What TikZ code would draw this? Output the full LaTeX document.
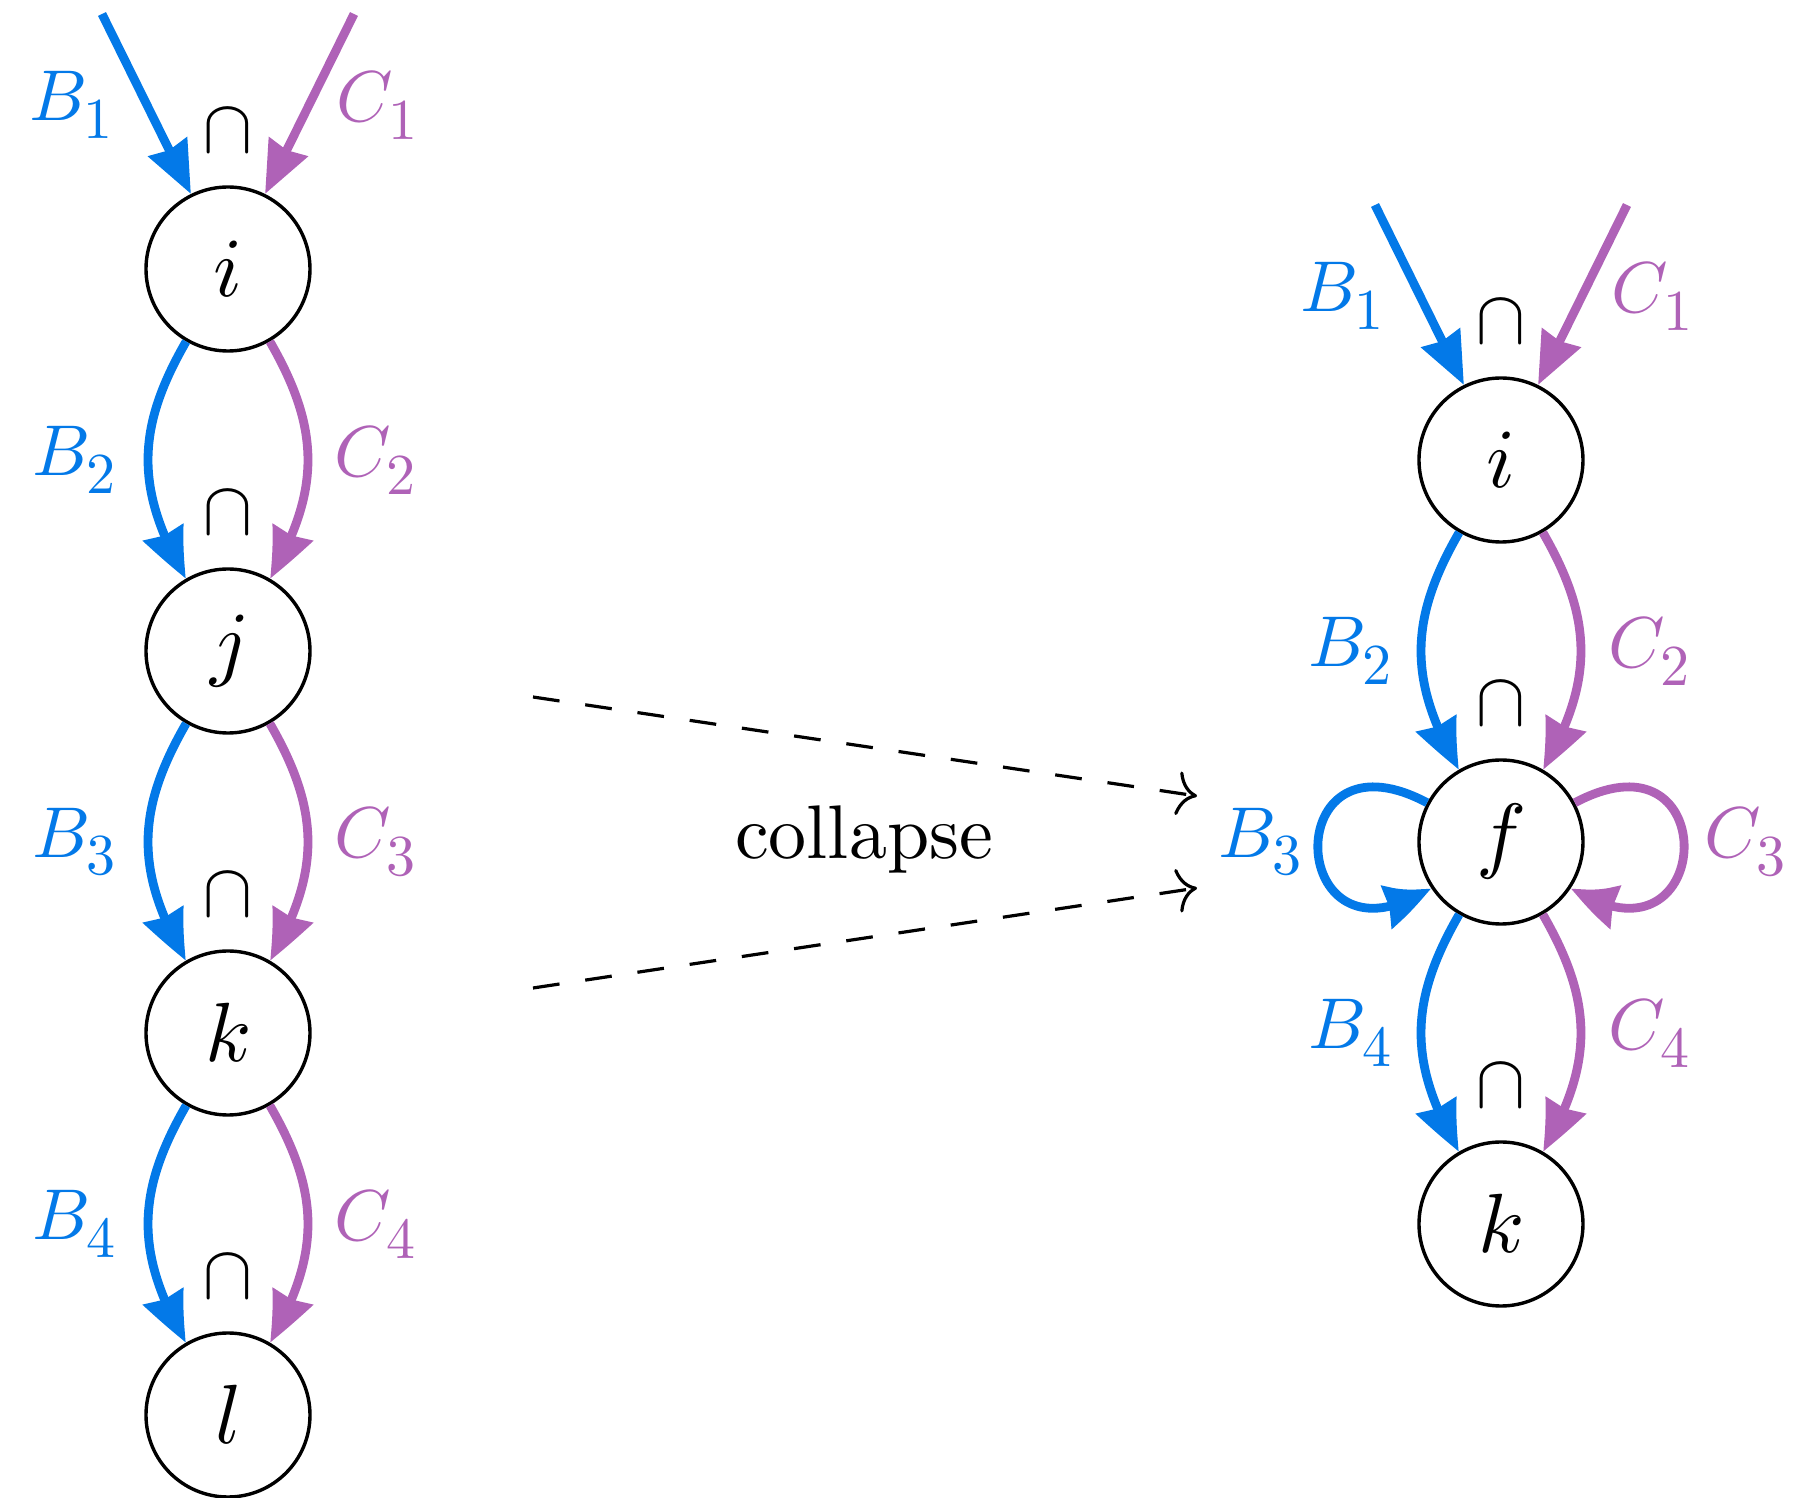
\documentclass[tikz,border=0pt]{standalone}
\usepackage{fontspec}
\usepackage{unicode-math}
\setmainfont{lmroman10-regular}[Extension=.otf]
\setmathfont{latinmodern-math.otf}
\DeclareMathSizes{18}{18}{14.5}{11}
\DeclareMathSizes{19}{19}{15}{12}
\DeclareMathSizes{21}{21}{16}{12}
\usetikzlibrary{arrows.meta,bending}
\definecolor{bblue}{RGB}{3,121,232}
\definecolor{cpurple}{RGB}{175,98,183}
\begin{document}
\begin{tikzpicture}[x=0.25pt,y=0.25pt,
  vert/.style={circle,draw,line width=0.85pt,minimum size=41pt,inner sep=0pt,font=\fontsize{21}{25}\selectfont},
  lab/.style={font=\fontsize{18}{22}\selectfont,inner sep=0pt},
  caplab/.style={font=\fontsize{19}{23}\selectfont,inner sep=0pt},
  colllab/.style={font=\fontsize{19}{23}\selectfont,inner sep=0pt},
  tipB/.tip={Stealth[length=13pt,width=10.5pt,inset=0.8pt,bend]},
  barr/.style={draw=bblue,line width=2.2pt,-tipB},
  carr/.style={draw=cpurple,line width=2.2pt,-tipB},
  dasharr/.style={line width=0.8pt,dash pattern=on 6.7pt off 6.5pt,-{Computer Modern Rightarrow[length=5pt,width=11pt]}},
  blab/.style={lab,text=bblue},
  clab/.style={lab,text=cpurple}
]
\useasboundingbox (0,0) rectangle (1793,-1498);

% left column
\node[vert] (li) at (228,-269) {$i$};
\node[vert] (lj) at (228,-651) {$j$};
\node[vert] (lk) at (228,-1033) {$k$};
\node[vert] (ll) at (228,-1415) {$l$};

% right column
\node[vert] (ri) at (1501,-460) {$i$};
\node[vert] (rf) at (1501,-842) {$f$};
\node[vert] (rk) at (1501,-1224) {$k$};

% free ends of incoming arrows
\coordinate (lb0) at (102,-14);
\coordinate (lc0) at (354,-14);
\coordinate (rb0) at (1375,-205);
\coordinate (rc0) at (1627,-205);

\draw[barr] (lb0) -- (li);
\draw[carr] (lc0) -- (li);
\draw[barr] (rb0) -- (ri);
\draw[carr] (rc0) -- (ri);

% left chain
\draw[barr] (li) to[out=240,in=120,looseness=1.1] (lj);
\draw[carr] (li) to[out=300,in=60,looseness=1.1] (lj);
\draw[barr] (lj) to[out=240,in=120,looseness=1.1] (lk);
\draw[carr] (lj) to[out=300,in=60,looseness=1.1] (lk);
\draw[barr] (lk) to[out=240,in=120,looseness=1.1] (ll);
\draw[carr] (lk) to[out=300,in=60,looseness=1.1] (ll);

% right chain
\draw[barr] (ri) to[out=240,in=120,looseness=1.1] (rf);
\draw[carr] (ri) to[out=300,in=60,looseness=1.1] (rf);
\draw[barr] (rf) to[out=240,in=120,looseness=1.1] (rk);
\draw[carr] (rf) to[out=300,in=60,looseness=1.1] (rk);
\draw[barr] (rf.152) to[out=152,in=213,distance=43pt] (rf.213);
\draw[carr] (rf.28) to[out=28,in=-33,distance=43pt] (rf.-33);

% intersection symbols
\node[caplab] (capli) at (228,-130) {$\cap$};
\node[caplab] (caplj) at (228,-512) {$\cap$};
\node[caplab] (caplk) at (228,-894) {$\cap$};
\node[caplab] (capll) at (228,-1276) {$\cap$};
\node[caplab] (capri) at (1501,-321) {$\cap$};
\node[caplab] (caprf) at (1501,-703) {$\cap$};
\node[caplab] (caprk) at (1501,-1085) {$\cap$};

% left labels
\node[blab] (lB1) at (72,-105) {$B_1$};
\node[clab] (lC1) at (378,-105) {$C_1$};
\node[blab] (lB2) at (75,-460) {$B_2$};
\node[clab] (lC2) at (376,-460) {$C_2$};
\node[blab] (lB3) at (75,-842) {$B_3$};
\node[clab] (lC3) at (376,-842) {$C_3$};
\node[blab] (lB4) at (75,-1224) {$B_4$};
\node[clab] (lC4) at (376,-1224) {$C_4$};

% right labels
\node[blab] (rB1) at (1343,-296) {$B_1$};
\node[clab] (rC1) at (1653,-296) {$C_1$};
\node[blab] (rB2) at (1351,-651) {$B_2$};
\node[clab] (rC2) at (1650,-651) {$C_2$};
\node[blab] (rB3) at (1261,-842) {$B_3$};
\node[clab] (rC3) at (1746,-842) {$C_3$};
\node[blab] (rB4) at (1351,-1033) {$B_4$};
\node[clab] (rC4) at (1650,-1033) {$C_4$};

% collapse
\node[colllab] (coll) at (864,-840) {collapse};
\coordinate (d1s) at (533,-697);
\coordinate (d1e) at (1197,-796);
\coordinate (d2s) at (533,-988);
\coordinate (d2e) at (1197,-888);
\draw[dasharr] (d1s) -- (d1e);
\draw[dasharr] (d2s) -- (d2e);
\end{tikzpicture}
\end{document}
